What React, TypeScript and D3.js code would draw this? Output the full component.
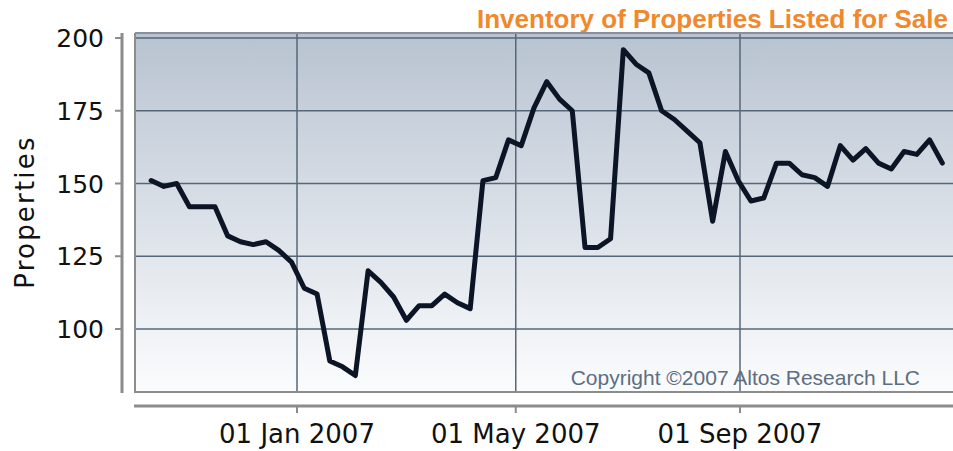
import React from "react";
import * as d3 from "d3";

const TITLE = "Inventory of Properties Listed for Sale";
const COPYRIGHT = "Copyright ©2007 Altos Research LLC";
const Y_LABEL = "Properties";

const START_DATE = new Date(2006, 9, 13);
const properties = [
  151, 149, 150, 142, 142, 142, 132, 130, 129, 130,
  127, 123, 114, 112, 89, 87, 84, 120, 116, 111,
  103, 108, 108, 112, 109, 107, 151, 152, 165, 163,
  176, 185, 179, 175, 128, 128, 131, 196, 191, 188,
  175, 172, 168, 164, 137, 161, 151, 144, 145, 157,
  157, 153, 152, 149, 163, 158, 162, 157, 155, 161,
  160, 165, 157,
];
const yTicks = [100, 125, 150, 175, 200];
const xTickDates = [new Date(2007, 0, 1), new Date(2007, 4, 1), new Date(2007, 8, 1)];

const W = 953;
const H = 451;
const PLOT = { left: 135, right: 953, top: 33, bottom: 392 };

export default function App() {
  const dates = properties.map((_, i) => d3.timeDay.offset(START_DATE, 7 * i));
  const x = d3
    .scaleTime()
    .domain([new Date(2007, 0, 1), new Date(2007, 8, 1)])
    .range([297, 740]);
  const y = d3.scaleLinear().domain([100, 200]).range([329, 38]);
  const fmt = d3.timeFormat("%d %b %Y");

  const line = d3
    .line<number>()
    .x((_, i) => x(dates[i]))
    .y((d) => y(d));

  return (
    <svg
      width={W}
      height={H}
      style={{ position: "absolute", left: 0, top: 0, background: "#fff" }}
    >
      <defs>
        <linearGradient id="bg" x1="0" y1="0" x2="0" y2="1">
          <stop offset="0%" stopColor="#b8c3d1" />
          <stop offset="100%" stopColor="#fbfcfd" />
        </linearGradient>
        <clipPath id="plotclip">
          <rect x={PLOT.left} y={PLOT.top} width={PLOT.right - PLOT.left} height={PLOT.bottom - PLOT.top} />
        </clipPath>
      </defs>

      <text
        x={948}
        y={28}
        textAnchor="end"
        fontFamily="Liberation Sans, Arial, sans-serif"
        fontWeight="bold"
        fontSize={26}
        fill="#f0882c"
      >
        {TITLE}
      </text>

      <rect
        x={PLOT.left}
        y={PLOT.top}
        width={PLOT.right - PLOT.left}
        height={PLOT.bottom - PLOT.top}
        fill="url(#bg)"
      />

      {yTicks.map((t) => (
        <line key={"gy" + t} x1={PLOT.left} x2={PLOT.right} y1={y(t)} y2={y(t)} stroke="#56677a" strokeWidth={1.5} />
      ))}
      {xTickDates.map((d, i) => (
        <line key={"gx" + i} x1={x(d)} x2={x(d)} y1={PLOT.top} y2={PLOT.bottom} stroke="#56677a" strokeWidth={1.5} />
      ))}

      <path d={`M${PLOT.left},${PLOT.top}H${PLOT.right}`} stroke="#8a9099" strokeWidth={2} fill="none" />
      <path d={`M${PLOT.left},${PLOT.top}V${PLOT.bottom}H${PLOT.right}`} stroke="#8c8c8c" strokeWidth={2} fill="none" />

      <text
        x={920}
        y={385}
        textAnchor="end"
        fontFamily="Liberation Sans, Arial, sans-serif"
        fontSize={21}
        fill="#5d6e82"
      >
        {COPYRIGHT}
      </text>

      <path
        d={line(properties) || ""}
        clipPath="url(#plotclip)"
        fill="none"
        stroke="#0b1526"
        strokeWidth={5}
        strokeLinejoin="round"
        strokeLinecap="round"
      />

      {/* Y axis */}
      <line x1={122} x2={122} y1={PLOT.top} y2={PLOT.bottom + 1} stroke="#8c8c8c" strokeWidth={3} />
      {yTicks.map((t) => (
        <g key={"yt" + t}>
          <line x1={115} x2={122} y1={y(t)} y2={y(t)} stroke="#8c8c8c" strokeWidth={2} />
          <text
            x={104}
            y={y(t)}
            dy="0.36em"
            textAnchor="end"
            fontFamily="DejaVu Sans, sans-serif"
            fontSize={25}
            fill="#111"
          >
            {t}
          </text>
        </g>
      ))}
      <text
        transform={`translate(34, 212) rotate(-90)`}
        textAnchor="middle"
        fontFamily="DejaVu Sans, sans-serif"
        fontSize={26}
        letterSpacing={2.2}
        fill="#111"
      >
        {Y_LABEL}
      </text>

      {/* X axis */}
      <line x1={134} x2={W} y1={406} y2={406} stroke="#8c8c8c" strokeWidth={3} />
      {xTickDates.map((d, i) => (
        <g key={"xt" + i}>
          <line x1={x(d)} x2={x(d)} y1={406} y2={413} stroke="#8c8c8c" strokeWidth={2} />
          <text
            x={x(d)}
            y={443}
            textAnchor="middle"
            fontFamily="DejaVu Sans, sans-serif"
            fontSize={26}
            fill="#111"
          >
            {fmt(d)}
          </text>
        </g>
      ))}
    </svg>
  );
}
